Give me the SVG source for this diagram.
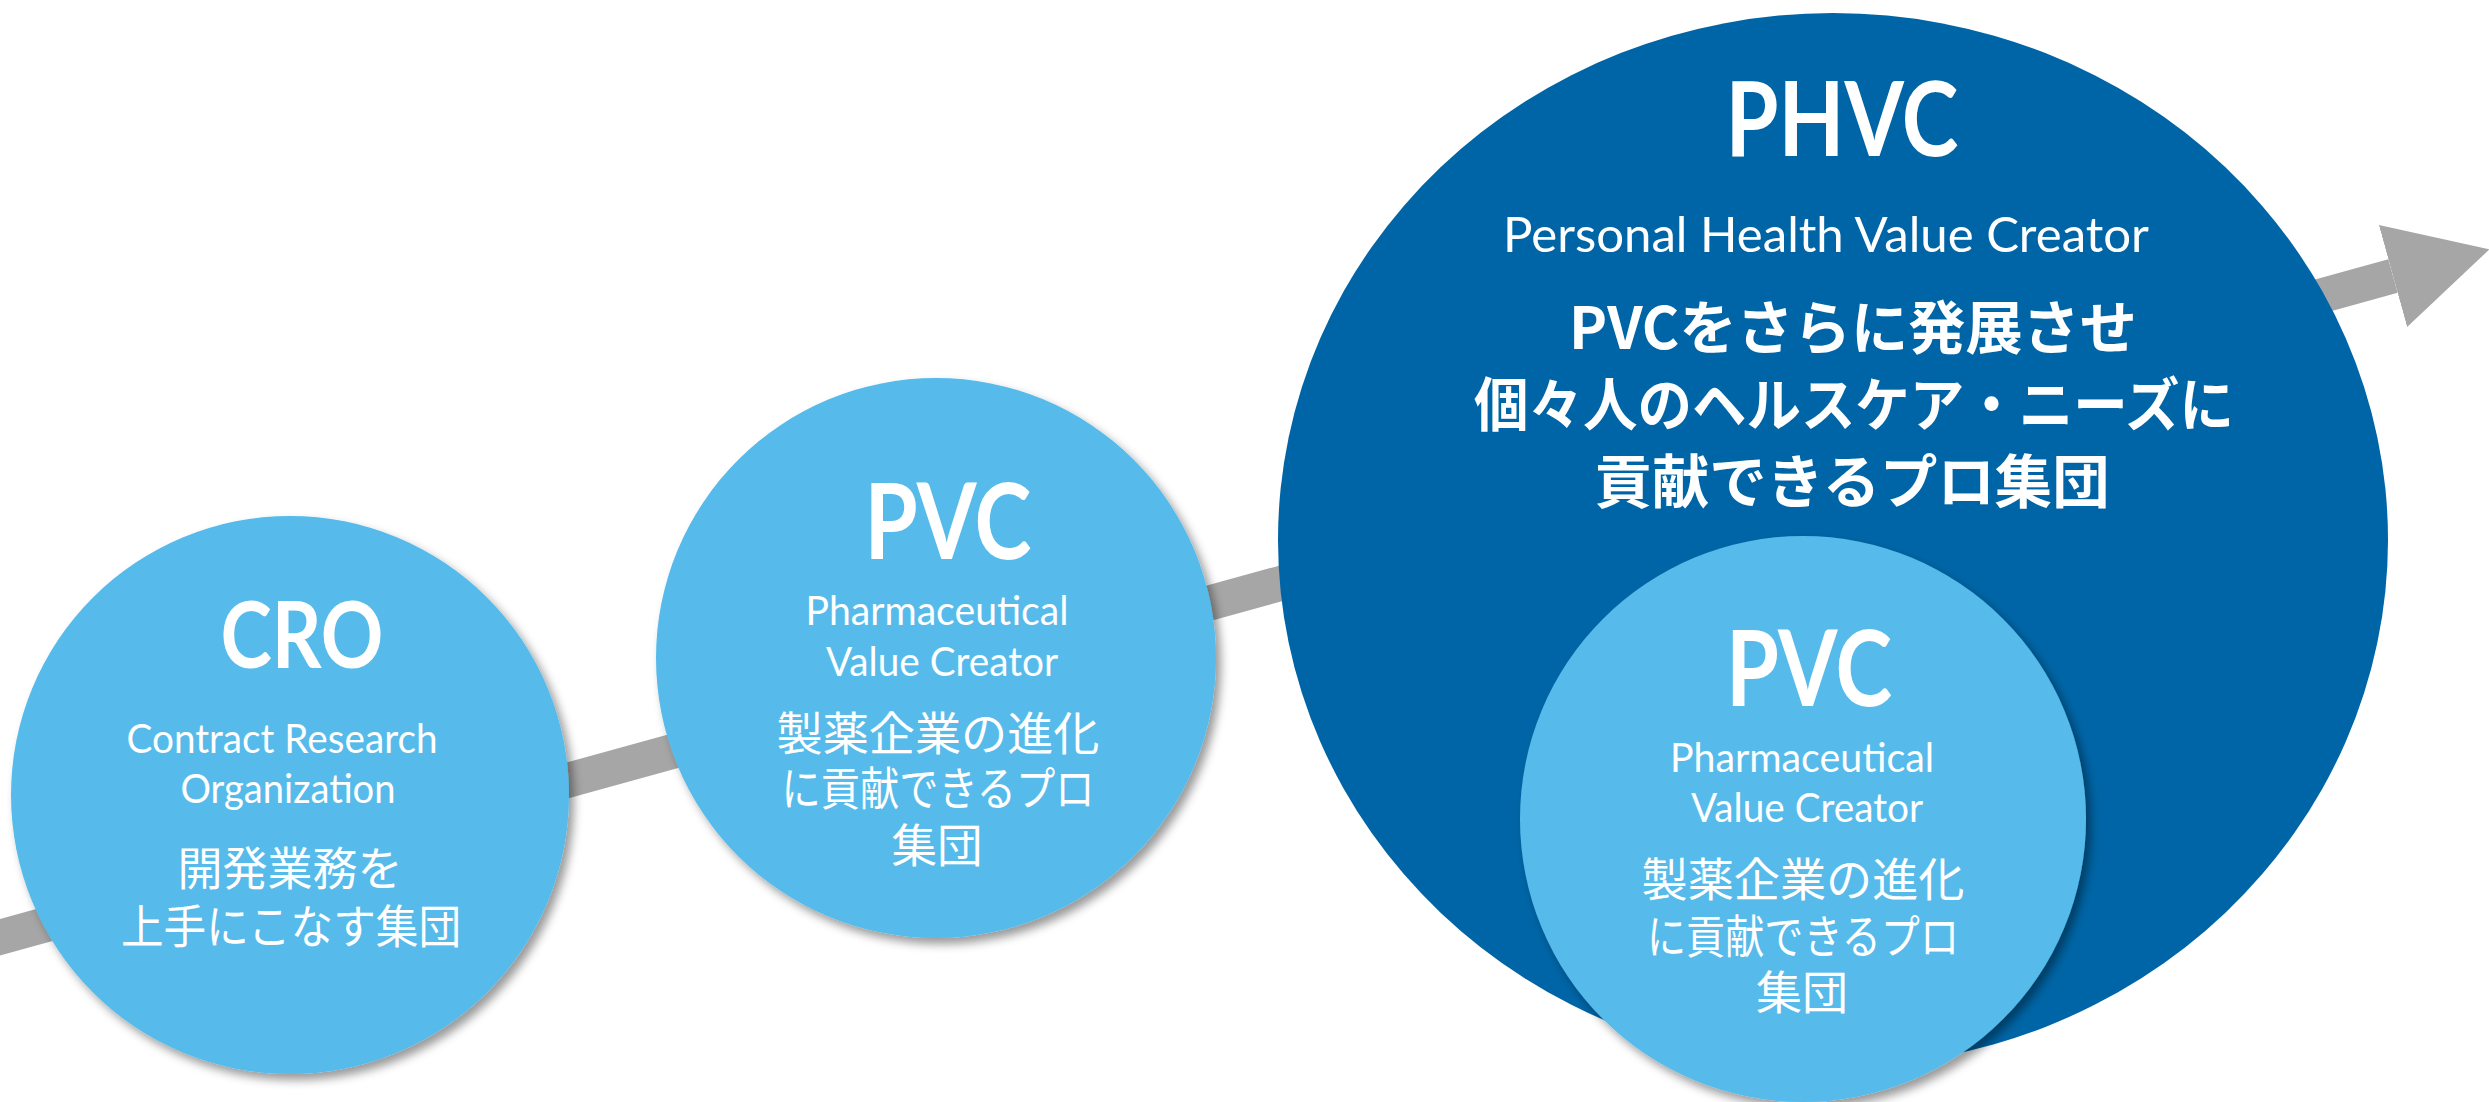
<svg xmlns="http://www.w3.org/2000/svg" width="2489" height="1102" viewBox="0 0 2489 1102">
  <style>
    .light { fill: #56BBEA; }
    .dark { fill: #0065A6; }
    .en { font-family: "Lato", "Liberation Sans", sans-serif; fill: #FFFFFF; text-anchor: middle; }
    .en-b { font-family: "Lato", "Liberation Sans", sans-serif; font-weight: 700; fill: #FFFFFF; text-anchor: middle; }
    .jp { font-family: "Noto Sans CJK JP", sans-serif; font-weight: 400; fill: #FFFFFF; text-anchor: middle; }
    .jp-b { font-family: "Noto Sans CJK JP", sans-serif; font-weight: 700; fill: #FFFFFF; text-anchor: middle; }
    .flow { stroke: #A6A6A6; stroke-width: 35; fill: none; }
  </style>
  <defs>
    <filter id="shadow" x="-10%" y="-10%" width="125%" height="125%">
      <feDropShadow dx="5" dy="6" stdDeviation="5" flood-color="#000000" flood-opacity="0.4"/>
    </filter>
    <marker id="head" markerUnits="userSpaceOnUse" viewBox="0 -55 110 110" markerWidth="110" markerHeight="110" refX="0" refY="0" orient="auto">
      <path d="M0,-53 L100,0 L0,53 Z" fill="#A6A6A6"/>
    </marker>
  </defs>
  <rect x="0" y="0" width="2489" height="1102" fill="#FFFFFF"/>

  <g id="connectors">
    <line class="flow" x1="-10" y1="940" x2="2393" y2="276" marker-end="url(#head)"/>
  </g>

  <g id="cro">
    <circle class="light" cx="290" cy="795" r="279" filter="url(#shadow)"/>
    <text class="en-b" x="302" y="668" font-size="92" textLength="163" lengthAdjust="spacingAndGlyphs">CRO</text>
    <text class="en" x="282" y="753" font-size="41" textLength="311" lengthAdjust="spacingAndGlyphs">Contract Research</text>
    <text class="en" x="288" y="803" font-size="41" textLength="215" lengthAdjust="spacingAndGlyphs">Organization</text>
    <text class="jp" x="290" y="885" font-size="46" textLength="225" lengthAdjust="spacingAndGlyphs">開発業務を</text>
    <text class="jp" x="291" y="943" font-size="46" textLength="340" lengthAdjust="spacingAndGlyphs">上手にこなす集団</text>
  </g>

  <g id="pvc">
    <circle class="light" cx="936" cy="658" r="280" filter="url(#shadow)"/>
    <text class="en-b" x="948" y="559" font-size="105" textLength="167" lengthAdjust="spacingAndGlyphs">PVC</text>
    <text class="en" x="937" y="625" font-size="41" textLength="263" lengthAdjust="spacingAndGlyphs">Pharmaceutical</text>
    <text class="en" x="942" y="676" font-size="41" textLength="232" lengthAdjust="spacingAndGlyphs">Value Creator</text>
    <text class="jp" x="938" y="750" font-size="46" textLength="323" lengthAdjust="spacingAndGlyphs">製薬企業の進化</text>
    <text class="jp" x="938" y="805" font-size="46" textLength="313" lengthAdjust="spacingAndGlyphs">に貢献できるプロ</text>
    <text class="jp" x="937" y="862" font-size="46" textLength="91" lengthAdjust="spacingAndGlyphs">集団</text>
  </g>

  <g id="phvc">
    <ellipse class="dark" cx="1833" cy="540" rx="555" ry="527"/>
    <text class="en-b" x="1842" y="156" font-size="103" textLength="233" lengthAdjust="spacingAndGlyphs">PHVC</text>
    <text class="en" x="1826" y="252" font-size="48" textLength="646" lengthAdjust="spacingAndGlyphs">Personal Health Value Creator</text>
    <text class="jp-b" x="1853" y="349" font-size="58" textLength="568" lengthAdjust="spacingAndGlyphs">PVCをさらに発展させ</text>
    <text class="jp-b" x="1854" y="426" font-size="58" textLength="760" lengthAdjust="spacingAndGlyphs">個々人のヘルスケア・ニーズに</text>
    <text class="jp-b" x="1852" y="503" font-size="58" textLength="515" lengthAdjust="spacingAndGlyphs">貢献できるプロ集団</text>
  </g>

  <g id="pvc-inner">
    <circle class="light" cx="1803" cy="819" r="283" filter="url(#shadow)"/>
    <text class="en-b" x="1809" y="706" font-size="105" textLength="166" lengthAdjust="spacingAndGlyphs">PVC</text>
    <text class="en" x="1802" y="772" font-size="41" textLength="264" lengthAdjust="spacingAndGlyphs">Pharmaceutical</text>
    <text class="en" x="1807" y="822" font-size="41" textLength="232" lengthAdjust="spacingAndGlyphs">Value Creator</text>
    <text class="jp" x="1803" y="896" font-size="46" textLength="323" lengthAdjust="spacingAndGlyphs">製薬企業の進化</text>
    <text class="jp" x="1803" y="953" font-size="46" textLength="312" lengthAdjust="spacingAndGlyphs">に貢献できるプロ</text>
    <text class="jp" x="1802" y="1009" font-size="46" textLength="92" lengthAdjust="spacingAndGlyphs">集団</text>
  </g>
</svg>
